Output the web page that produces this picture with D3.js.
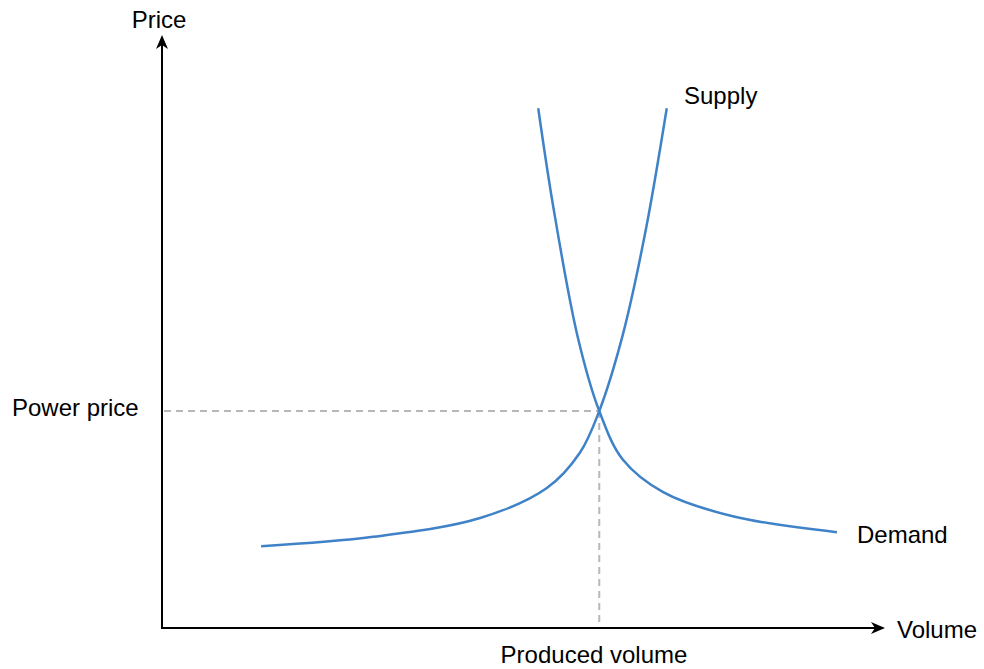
<!DOCTYPE html>
<html>
<head>
<meta charset="utf-8">
<script src="https://cdn.jsdelivr.net/npm/d3@7"></script>
<style>
  body { margin: 0; background: #fff; }
  text { font-family: "Liberation Sans", Arial, sans-serif; font-size: 24px; fill: #000; }
</style>
</head>
<body>
<script>
// curve points in chart units (x: volume 0-100, y: price 0-100)
const supplyX = [13.8, 29.4, 44.3, 53.6, 58.2, 60.9, 64.1, 67.3, 70.3];
const supplyY = [13.9, 15.5, 18.7, 23.8, 29.8, 36.9, 49.5, 67.2, 88.4];
const demandX = [52.4, 54.5, 57.9, 60.9, 64.2, 69.8, 79.5, 94.0];
const demandY = [88.4, 71.6, 49.5, 36.9, 28.6, 23.1, 19.0, 16.3];
const equilibrium = {x: 60.9, y: 36.9};
const axisLabels = {x: "Volume", y: "Price"};
const eqLabels = {x: "Produced volume", y: "Power price"};
const seriesNames = ["Supply", "Demand"];

const width = 984, height = 669;
const x = d3.scaleLinear().domain([0, 100]).range([162, 880]);
const y = d3.scaleLinear().domain([0, 100]).range([628, 40]);

const svg = d3.select("body").append("svg")
	.attr("width", width).attr("height", height);

const defs = svg.append("defs");
defs.append("marker")
	.attr("id", "arrow")
	.attr("viewBox", "0 0 14 12")
	.attr("refX", 12).attr("refY", 6)
	.attr("markerWidth", 14).attr("markerHeight", 12)
	.attr("markerUnits", "userSpaceOnUse")
	.attr("orient", "auto")
	.append("path")
	.attr("d", "M0,0 L14,6 L0,12 L4,6 Z")
	.attr("fill", "#000");

// dashed guides
svg.append("line")
	.attr("x1", x(0) + 2).attr("x2", x(equilibrium.x))
	.attr("y1", y(equilibrium.y)).attr("y2", y(equilibrium.y))
	.attr("stroke", "#b8b8b8").attr("stroke-width", 2).attr("stroke-dasharray", "7,5");
svg.append("line")
	.attr("x1", x(equilibrium.x)).attr("x2", x(equilibrium.x))
	.attr("y1", y(equilibrium.y)).attr("y2", y(0))
	.attr("stroke", "#b8b8b8").attr("stroke-width", 2).attr("stroke-dasharray", "7,5");

// axes
svg.append("line")
	.attr("x1", x(0)).attr("y1", y(0)).attr("x2", x(0)).attr("y2", y(100) - 3)
	.attr("stroke", "#000").attr("stroke-width", 2).attr("marker-end", "url(#arrow)");
svg.append("line")
	.attr("x1", x(0) - 1).attr("y1", y(0)).attr("x2", x(100) + 3).attr("y2", y(0))
	.attr("stroke", "#000").attr("stroke-width", 2).attr("marker-end", "url(#arrow)");

const line = d3.line()
	.x(d => x(d[0])).y(d => y(d[1]))
	.curve(d3.curveCatmullRom.alpha(0.5));

svg.append("path")
	.datum(d3.zip(supplyX, supplyY))
	.attr("d", line)
	.attr("fill", "none").attr("stroke", "#3f82c8").attr("stroke-width", 2.5);
svg.append("path")
	.datum(d3.zip(demandX, demandY))
	.attr("d", line)
	.attr("fill", "none").attr("stroke", "#3f82c8").attr("stroke-width", 2.5);

// labels
svg.append("text").attr("x", 159).attr("y", 28).attr("text-anchor", "middle").text(axisLabels.y);
svg.append("text").attr("x", 897).attr("y", 638).text(axisLabels.x);
svg.append("text").attr("x", 12).attr("y", 416).text(eqLabels.y);
svg.append("text").attr("x", 594).attr("y", 663).attr("text-anchor", "middle").text(eqLabels.x);
svg.append("text").attr("x", 684).attr("y", 104).text(seriesNames[0]);
svg.append("text").attr("x", 857).attr("y", 543).text(seriesNames[1]);
</script>
</body>
</html>
